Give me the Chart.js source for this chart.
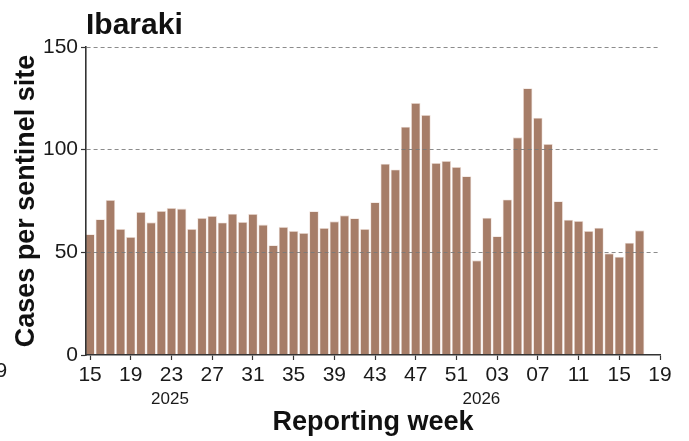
<!DOCTYPE html>
<html><head><meta charset="utf-8">
<script src="https://cdn.jsdelivr.net/npm/chart.js@4"></script>
<style>html,body{margin:0;padding:0;background:#fff}#wrap{width:689px;height:441px}</style>
</head><body><div id="wrap"><canvas id="c" width="689" height="441"></canvas></div>
<script>
// Week labels: 2025 wk15 .. 2025 wk52, then 2026 wk01 .. wk19
const weekLabels = ['15','16','17','18','19','20','21','22','23','24','25','26','27','28','29','30','31','32','33','34','35','36','37','38','39','40','41','42','43','44','45','46','47','48','49','50','51','52',
  '01','02','03','04','05','06','07','08','09','10','11','12','13','14','15','16','17','18','19'];
const cases = [58.8, 66.1, 75.5, 61.4, 57.5, 69.7, 64.6, 70.1, 71.6, 71.3, 61.4, 66.7, 67.7, 64.5, 68.8, 64.8, 68.7, 63.5, 53.5, 62.4,
  60.4, 59.4, 70.0, 61.9, 65.1, 68.0, 66.6, 61.4, 74.4, 93.2, 90.4, 111.2, 122.7, 116.9, 93.5, 94.5, 91.6, 87.1,
  46.1, 66.9, 57.8, 75.7, 106.0, 129.9, 115.6, 102.8, 74.9, 65.9, 65.3, 60.4, 62.0, 49.5, 47.9, 54.7, 60.7];
const yearLabels = ['2025', '2026'];
const yTicks = [0, 50, 100, 150];
const title = 'Ibaraki';

const FONT = '"Liberation Sans", Arial, Helvetica, sans-serif';
const points = cases.map((v, i) => ({x: i, y: v}));

const extras = {
  id: 'extras',
  afterDraw(chart) {
    const ctx = chart.ctx, xs = chart.scales.x;
    ctx.save();
    ctx.fillStyle = '#1a1a1a';
    ctx.textAlign = 'center';
    ctx.textBaseline = 'middle';
    ctx.font = '17px ' + FONT;
    const anchors = [7.85, 38.45];
    yearLabels.forEach((t, i) => ctx.fillText(t, xs.getPixelForValue(anchors[i]), 399));
    ctx.font = '21px ' + FONT;
    ctx.fillText('19', xs.getPixelForValue(-9.3), 371);
    ctx.restore();
  }
};

new Chart(document.getElementById('c'), {
  type: 'bar',
  data: {
    datasets: [{
      data: points,
      backgroundColor: '#A67D68',
      borderColor: '#EEDFD8',
      borderWidth: 0.8,
      barPercentage: 0.93,
      categoryPercentage: 1.0
    }]
  },
  options: {
    responsive: false,
    animation: false,
    devicePixelRatio: 1,
    layout: {padding: {left: 0, right: 29, top: 0, bottom: 0}},
    plugins: {
      legend: {display: false},
      tooltip: {enabled: false},
      title: {
        display: true, text: title, align: 'start', fullSize: false,
        color: '#111', font: {family: FONT, size: 30, weight: 'bold'},
        padding: {top: 8, bottom: 3}
      }
    },
    scales: {
      x: {
        type: 'linear', min: -0.4, max: 56, offset: false,
        afterBuildTicks(scale) {
          const t = [];
          for (let v = 0; v <= 56; v += 4) t.push({value: v});
          scale.ticks = t;
        },
        ticks: {
          autoSkip: false, maxRotation: 0, padding: 3, color: '#1a1a1a',
          font: {family: FONT, size: 21},
          callback: (v) => weekLabels[v]
        },
        grid: {display: true, drawOnChartArea: false, offset: false, tickLength: 5, tickColor: '#333', tickWidth: 1.2},
        border: {display: true, color: '#333', width: 1.6, z: 1},
        title: {display: true, text: 'Reporting week', color: '#111',
          font: {family: FONT, size: 27, weight: 'bold'}, padding: {top: 10, bottom: 2}},
        afterFit(scale) { scale.height = 86; }
      },
      y: {
        min: 0, max: 150,
        afterBuildTicks(scale) { scale.ticks = yTicks.map(v => ({value: v})); },
        ticks: {padding: 3, color: '#1a1a1a', font: {family: FONT, size: 21}},
        grid: {
          z: 1, tickLength: 5, tickColor: '#333', tickWidth: 1.2, tickBorderDash: [],
          color: (c) => (c.tick && c.tick.value === 0) ? 'rgba(0,0,0,0)' : 'rgba(120,120,120,0.85)',
          lineWidth: 1
        },
        border: {display: true, color: '#333', width: 1.6, dash: [4, 3], z: 1},
        title: {display: true, text: 'Cases per sentinel site', color: '#111',
          font: {family: FONT, size: 27, weight: 'bold'}, padding: {top: 10, bottom: 2}},
        afterFit(scale) { scale.width = 86; }
      }
    }
  },
  plugins: [extras]
});
</script>
</body></html>
